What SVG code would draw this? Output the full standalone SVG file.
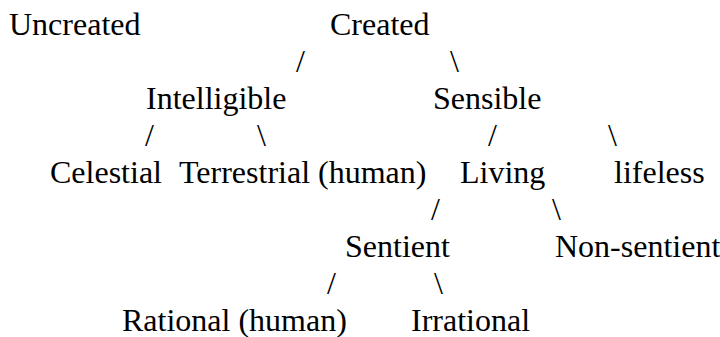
<svg xmlns="http://www.w3.org/2000/svg" width="720" height="337" viewBox="0 0 720 337" font-family="'Liberation Serif', 'Times New Roman', 'DejaVu Serif', serif" font-size="32">
<style>
text { font-family: "Liberation Serif", "Times New Roman", "DejaVu Serif", serif; font-size: 32px; fill: #000; }
</style>
<rect width="720" height="337" fill="#fff"/>
<g id="nodes">
<g id="uncreated"><text x="9" y="35">Uncreated</text></g>
<g id="created"><text x="330" y="35">Created</text></g>
<g id="intelligible"><text x="146" y="109">Intelligible</text></g>
<g id="sensible"><text x="433" y="109">Sensible</text></g>
<g id="celestial"><text x="50" y="183">Celestial</text></g>
<g id="terrestrial"><text x="179" y="183">Terrestrial (human)</text></g>
<g id="living"><text x="460" y="183">Living</text></g>
<g id="lifeless"><text x="614" y="183">lifeless</text></g>
<g id="sentient"><text x="345" y="257">Sentient</text></g>
<g id="nonsentient"><text x="555" y="257">Non-sentient</text></g>
<g id="rational"><text x="122" y="331">Rational (human)</text></g>
<g id="irrational"><text x="411" y="331">Irrational</text></g>
</g>
<g id="connectors">
<text x="296" y="72">/</text>
<text x="450" y="72">\</text>
<text x="145" y="146">/</text>
<text x="257" y="146">\</text>
<text x="488" y="146">/</text>
<text x="608" y="146">\</text>
<text x="431" y="220">/</text>
<text x="552" y="220">\</text>
<text x="327" y="294">/</text>
<text x="434" y="294">\</text>
</g>
</svg>
